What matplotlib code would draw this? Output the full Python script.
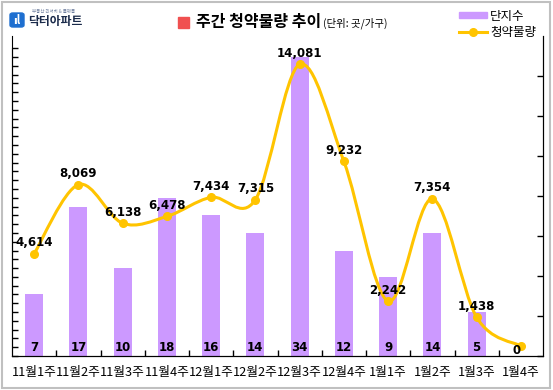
import matplotlib
matplotlib.use("Agg")
import matplotlib.pyplot as plt
from matplotlib.patches import Rectangle, FancyBboxPatch, PathPatch
from matplotlib.path import Path
from matplotlib.lines import Line2D
import numpy as np

plt.rcParams["font.family"] = ["Noto Sans CJK KR", "DejaVu Sans"]

weeks = ["11월1주", "11월2주", "11월3주", "11월4주", "12월1주", "12월2주",
         "12월3주", "12월4주", "1월1주", "1월2주", "1월3주", "1월4주"]
complexes = [7, 17, 10, 18, 16, 14, 34, 12, 9, 14, 5, None]   # 단지수
supply = [4614, 8069, 6138, 6478, 7434, 7315, 14081, 9232, 2242, 7354, 1438, 0]  # 청약물량

BAR_COLOR = "#CC99FF"
LINE_COLOR = "#FFC400"

fig = plt.figure(figsize=(5.53, 3.9), dpi=100)
ax = fig.add_axes([12 / 553, 34 / 390, 531 / 553, 320 / 390])
ax2 = ax.twinx()

x = np.arange(len(weeks))

# bars: 단지수
bar_x = [i for i, v in zip(x, complexes) if v is not None]
bar_v = [v for v in complexes if v is not None]
ax.bar(bar_x, bar_v, width=0.41, color=BAR_COLOR, zorder=1)
for i, v in zip(bar_x, bar_v):
    ax.text(i, 1.0, str(v), ha="center", va="center", fontsize=8.5,
            fontweight="bold", color="black", family=["DejaVu Sans"])

ax.set_xlim(-0.5, len(weeks) - 0.5)
ax.set_ylim(0, 36.4)
ax.set_yticks(np.arange(0, 36, 1))
ax.set_yticklabels([])
ax.spines["left"].set_bounds(0, 35)
ax.spines["top"].set_visible(False)
ax.tick_params(axis="y", direction="in", length=4, width=1)
ax.set_xticks(x)
ax.set_xticklabels(weeks, fontsize=9.2)
ax.set_xticks(np.arange(-0.5, len(weeks), 1)[1:-1], minor=True)
ax.tick_params(axis="x", which="major", length=0, pad=7)
ax.tick_params(axis="x", which="minor", direction="in", length=4, width=1)

# smoothed line: 청약물량 (Excel-style bezier through the points)
pts = np.column_stack([x, supply]).astype(float)
ext = np.vstack([pts[0], pts, pts[-1]])
verts = [tuple(pts[0])]
codes = [Path.MOVETO]
for i in range(len(pts) - 1):
    p0, p1, p2, p3 = ext[i], ext[i + 1], ext[i + 2], ext[i + 3]
    c1 = p1 + (p2 - p0) / 6
    c2 = p2 - (p3 - p1) / 6
    verts += [tuple(c1), tuple(c2), tuple(p2)]
    codes += [Path.CURVE4] * 3
ax2.add_patch(PathPatch(Path(verts, codes), facecolor="none",
                        edgecolor=LINE_COLOR, lw=2.2, capstyle="round", zorder=3))
ax2.plot(x, supply, "o", color=LINE_COLOR, markersize=5.5, zorder=4)

for i, v in zip(x, supply):
    if v == 0:
        ax2.annotate("0", (i, v), xytext=(-4, -4), textcoords="offset pixels",
                     ha="center", va="center", fontsize=8.5, fontweight="bold",
                     family=["DejaVu Sans"], zorder=5)
    else:
        ax2.annotate(f"{v:,}", (i, v), xytext=(0, 11), textcoords="offset pixels",
                     ha="center", va="center", fontsize=8.5, fontweight="bold",
                     family=["DejaVu Sans"], zorder=5)

ax2.set_ylim(-500, 15500)
ax2.set_yticks(np.arange(-500, 15500, 2000))
ax2.set_yticklabels([])
ax2.spines["top"].set_visible(False)
ax2.tick_params(axis="y", direction="in", length=4, width=1)

# title
fig.patches.append(Rectangle((178 / 553, 1 - 28 / 390), 11 / 553, 11 / 390,
                             transform=fig.transFigure, color="#F05050"))
fig.text(196 / 553, 1 - 22 / 390, "주간 청약물량 추이", fontsize=11.5,
         fontweight="bold", va="center", ha="left")
fig.text(323 / 553, 1 - 23 / 390, "(단위: 곳/가구)", fontsize=7.5,
         va="center", ha="left")

# legend
handles = [Rectangle((0, 0), 1, 1, color=BAR_COLOR),
           Line2D([], [], color=LINE_COLOR, lw=2.2, marker="o", markersize=5.5)]
fig.legend(handles, ["단지수", "청약물량"], loc="upper right",
           bbox_to_anchor=(545 / 553, 1 - 1 / 390), frameon=False, fontsize=9,
           handlelength=2.2, handleheight=0.4, handletextpad=0.3, labelspacing=0.25,
           borderpad=0.2)

# logo
fig.patches.append(FancyBboxPatch((10 / 553, 1 - 27 / 390), 14 / 553, 14 / 390,
                                  boxstyle="round,pad=0,rounding_size=0.005",
                                  transform=fig.transFigure, color="#1E6FD0"))
fig.text(17 / 553, 1 - 20 / 390, "ıl", color="white", fontsize=8,
         fontweight="bold", ha="center", va="center")
fig.text(28 / 553, 1 - 21.5 / 390, "닥터아파트", fontsize=8.5, fontweight="bold",
         color="#1A2A4A", va="center", ha="left")
fig.text(32 / 553, 1 - 11 / 390, "부동산 리서치 & 플랫폼", fontsize=3.2,
         color="#7080A0", va="center", ha="left")

# outer border
fig.patches.append(Rectangle((2 / 553, 2 / 390), 548 / 553, 386 / 390,
                             transform=fig.transFigure, fill=False,
                             edgecolor="#C0C0C0", lw=1.5))

fig.savefig("out.png", dpi=100)
